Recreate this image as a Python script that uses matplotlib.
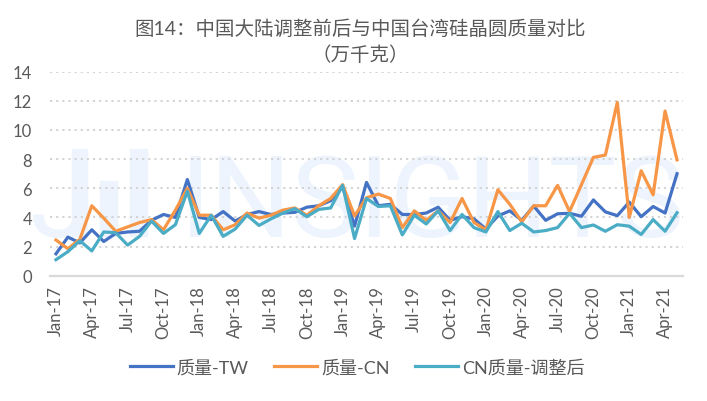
import matplotlib
matplotlib.use('Agg')
import matplotlib.pyplot as plt
from matplotlib.patches import Rectangle
import numpy as np

plt.rcParams['font.family'] = ['Lato', 'Noto Sans CJK SC', 'DejaVu Sans']

tw = [1.5, 2.65, 2.25, 3.15, 2.35, 2.9, 3.0, 3.05, 3.8, 4.2, 4.0, 6.6, 4.0, 3.85,
      4.4, 3.75, 4.2, 4.4, 4.2, 4.3, 4.35, 4.7, 4.8, 5.15, 6.1, 3.4, 6.4, 4.8, 4.9,
      4.2, 4.2, 4.3, 4.7, 3.8, 4.05, 3.9, 3.2, 4.1, 4.45, 3.8, 4.78, 3.8, 4.25,
      4.28, 4.08, 5.2, 4.38, 4.12, 5.05, 4.05, 4.75, 4.3, 7.0]
cn = [2.45, 1.85, 2.5, 4.8, 3.95, 3.05, 3.35, 3.65, 3.85, 3.15, 4.5, 6.0, 4.15, 4.15,
      3.15, 3.5, 4.3, 3.95, 4.15, 4.5, 4.65, 4.15, 4.8, 5.3, 6.25, 4.1, 5.35, 5.6, 5.3,
      3.3, 4.45, 3.8, 4.45, 3.65, 5.3, 3.65, 3.15, 5.9, 4.9, 3.7, 4.8, 4.8, 6.2,
      4.4, 6.25, 8.12, 8.28, 11.9, 4.0, 7.2, 5.55, 11.3, 7.95]
cn_adj = [1.1, 1.65, 2.4, 1.7, 3.0, 2.95, 2.1, 2.7, 3.75, 2.9, 3.5, 5.8, 2.9, 4.15,
          2.7, 3.2, 4.15, 3.45, 3.9, 4.3, 4.6, 4.05, 4.55, 4.65, 6.2, 2.55, 5.3, 4.75,
          4.8, 2.8, 4.15, 3.55, 4.45, 3.1, 4.2, 3.3, 3.0, 4.4, 3.1, 3.6, 3.0, 3.1, 3.3,
          4.28, 3.3, 3.48, 3.05, 3.5, 3.4, 2.83, 3.85, 3.05, 4.32]
tick_labels = ['Jan-17', 'Apr-17', 'Jul-17', 'Oct-17', 'Jan-18', 'Apr-18', 'Jul-18',
               'Oct-18', 'Jan-19', 'Apr-19', 'Jul-19', 'Oct-19', 'Jan-20', 'Apr-20',
               'Jul-20', 'Oct-20', 'Jan-21', 'Apr-21']
series_names = ['质量-TW', '质量-CN', 'CN质量-调整后']
colors = ['#4472C4', '#F79646', '#4BACC6']
title = '图14：中国大陆调整前后与中国台湾硅晶圆质量对比\n（万千克）'

W, H = 707, 402
fig = plt.figure(figsize=(W / 100, H / 100), dpi=100)
fig.patch.set_facecolor('white')

# watermark (behind everything)
wm = '#EDF4FD'
fig.text(30 / W, 1 - 237 / H, 'J', fontsize=82, color=wm, family='Roboto',
         ha='left', va='baseline', zorder=-5)
for x0, x1, ytop in [(72, 87, 150), (100, 117, 182), (130, 147, 150)]:
    fig.patches.append(Rectangle((x0 / W, 1 - 237 / H), (x1 - x0) / W, (237 - ytop) / H,
                                 transform=fig.transFigure, color=wm, zorder=-5))
fig.text(180 / W, 1 - 237 / H, 'INSIGHTS', fontsize=82, color=wm, family='Roboto',
         ha='left', va='baseline', zorder=-5)

ax = fig.add_axes([50 / W, 1 - 276.7 / H, 633 / W, 204 / H])
ax.set_zorder(1)
ax.patch.set_alpha(0)
x = np.arange(len(tw))
for vals, name, c in zip([tw, cn, cn_adj], series_names, colors):
    ax.plot(x, vals, color=c, lw=2.3, label=name, solid_joinstyle='round')

ax.set_xlim(-0.5, len(tw) - 0.5)
ax.set_ylim(0, 14)
ax.set_yticks(np.arange(0, 15, 2))
ax.set_xticks(np.arange(0, len(tw), 3))
ax.set_xticklabels(tick_labels, rotation=90)
ax.tick_params(axis='both', length=0, labelsize=12, colors='#595959')
ax.tick_params(axis='y', pad=13)
ax.tick_params(axis='x', pad=7)
ax.grid(axis='y', color='#D0D0D0', lw=1.3, linestyle=(0, (1.2, 2.2)))
ax.set_axisbelow(True)
for s in ['top', 'right', 'left']:
    ax.spines[s].set_visible(False)
ax.spines['bottom'].set_color('#D9D9D9')
ax.spines['bottom'].set_linewidth(1.6)

fig.text(0.51, 1 - 42 / H, title, ha='center', va='center', fontsize=14,
         color='#595959', linespacing=1.45)

fig.legend(loc='center', bbox_to_anchor=(0.505, 1 - 368 / H), ncol=3, frameon=False,
           fontsize=13, handlelength=2.4, handletextpad=0.2, columnspacing=1.4,
           labelcolor='#595959')

fig.savefig('out.png', dpi=100)
